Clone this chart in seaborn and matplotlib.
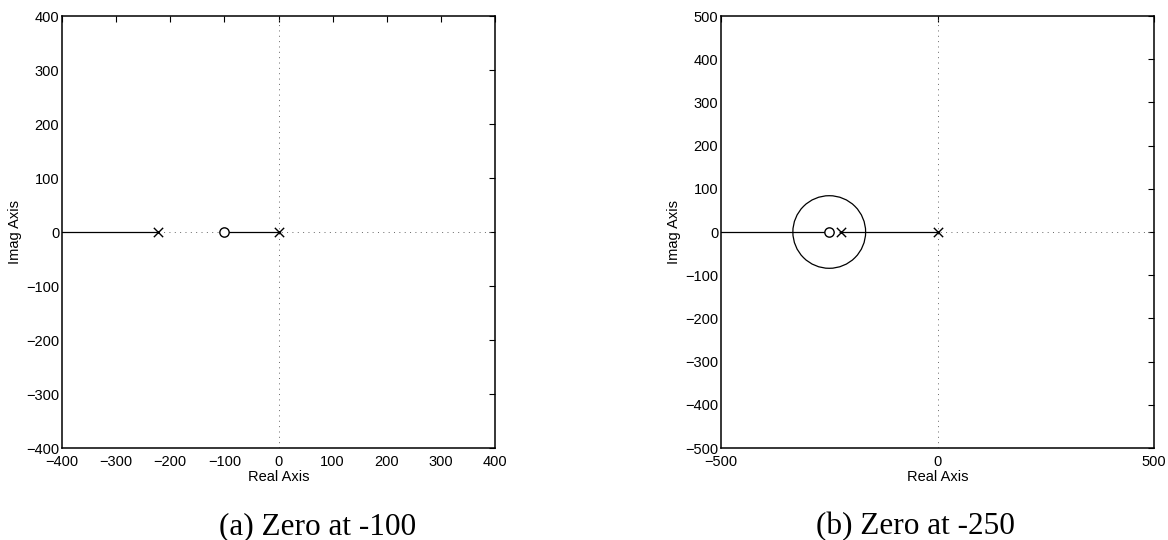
import numpy as np
import matplotlib
matplotlib.use("Agg")
import matplotlib.pyplot as plt
from matplotlib.patches import Circle
import seaborn as sns

# ---- data ----
captions = ["(a) Zero at -100", "(b) Zero at -250"]
limits = [400, 500]
xticks_a = [-400, -300, -200, -100, 0, 100, 200, 300, 400]
yticks_a = [-400, -300, -200, -100, 0, 100, 200, 300, 400]
xticks_b = [-500, 0, 500]
yticks_b = [-500, -400, -300, -200, -100, 0, 100, 200, 300, 400, 500]

poles_a = [0, -222]
zeros_a = [-100]
branches_a = [(-400, -222), (-100, 0)]

poles_b = [0, -222]
zeros_b = [-250]
branches_b = [(-500, -250), (-222, 0)]
circle_center_b = -250
circle_radius_b = 84

sns.set_theme(style="white")
plt.rcParams["font.family"] = ["Liberation Sans", "DejaVu Sans"]

fig = plt.figure(figsize=(11.68, 5.40), dpi=100)
W, H = 1168, 540
ax_a = fig.add_axes([62 / W, 1 - 448 / H, 433 / W, 432 / H])
ax_b = fig.add_axes([721 / W, 1 - 448 / H, 433 / W, 432 / H])

FS = 10.5


def draw(ax, lim, xt, yt, poles, zeros, branches, circle=None):
    # axis lines (dotted)
    ax.axhline(0, color="#666666", lw=0.7, ls=(0, (1, 4.5)), zorder=1)
    ax.axvline(0, color="#666666", lw=0.7, ls=(0, (1, 4.5)), zorder=1)
    for a, b in branches:
        sns.lineplot(x=[a, b], y=[0, 0], ax=ax, color="black", lw=0.9,
                     sort=False, estimator=None, zorder=2)
    if circle is not None:
        c, r = circle
        ax.add_patch(Circle((c, 0), r, fill=False, ec="black", lw=0.9, zorder=2))
    sns.scatterplot(x=poles, y=[0] * len(poles), ax=ax, marker="x", s=45,
                    color="black", linewidth=1.0, zorder=3)
    sns.scatterplot(x=zeros, y=[0] * len(zeros), ax=ax, marker="o", s=45,
                    facecolor="white", edgecolor="black", linewidth=1.0, zorder=3)
    ax.set_xlim(-lim, lim)
    ax.set_ylim(-lim, lim)
    ax.set_xticks(xt)
    ax.set_yticks(yt)
    ax.set_xticklabels([str(v).replace("-", "\u2212") for v in xt])
    ax.set_yticklabels([str(v).replace("-", "\u2212") for v in yt])
    ax.tick_params(direction="in", top=True, right=True, length=4, width=0.8,
                   labelsize=FS, colors="black")
    ax.tick_params(axis="x", pad=5)
    ax.tick_params(axis="y", pad=2)
    for s in ax.spines.values():
        s.set_color("black")
        s.set_linewidth(1.1)
    ax.set_xlabel("Real Axis", fontsize=FS, labelpad=1, color="black")
    ax.set_ylabel("Imag Axis", fontsize=FS, labelpad=3, color="black")


draw(ax_a, limits[0], xticks_a, yticks_a, poles_a, zeros_a, branches_a)
draw(ax_b, limits[1], xticks_b, yticks_b, poles_b, zeros_b, branches_b,
     circle=(circle_center_b, circle_radius_b))

fig.text(317.5 / W, 1 - 527 / H, captions[0], ha="center", va="center",
         fontsize=22.5, color="black", family=["Liberation Serif", "DejaVu Serif"])
fig.text(915.5 / W, 1 - 527 / H, captions[1], ha="center", va="center",
         fontsize=22.5, color="black", family=["Liberation Serif", "DejaVu Serif"])

fig.savefig("out.png", dpi=100)
